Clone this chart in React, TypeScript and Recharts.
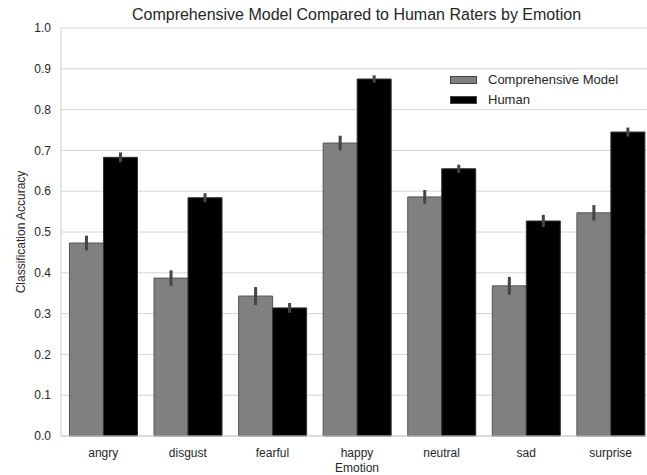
import React from 'react';
import { BarChart, Bar, XAxis, YAxis, CartesianGrid, ErrorBar } from 'recharts';

const emotions = ['angry', 'disgust', 'fearful', 'happy', 'neutral', 'sad', 'surprise'];
const modelAccuracy = [0.473, 0.387, 0.343, 0.718, 0.586, 0.368, 0.547];
const modelError = [0.018, 0.019, 0.022, 0.018, 0.017, 0.022, 0.019];
const humanAccuracy = [0.683, 0.584, 0.314, 0.875, 0.655, 0.527, 0.745];
const humanError = [0.012, 0.011, 0.012, 0.009, 0.010, 0.015, 0.011];
const yTicks = [0, 0.1, 0.2, 0.3, 0.4, 0.5, 0.6, 0.7, 0.8, 0.9, 1.0];
const seriesNames = ['Comprehensive Model', 'Human'];
const seriesColors = ['#808080', '#000000'];

const data = emotions.map((e, i) => ({
    emotion: e,
    model: modelAccuracy[i],
    modelErr: modelError[i],
    human: humanAccuracy[i],
    humanErr: humanError[i],
}));

const FONT = '"Liberation Sans", Arial, sans-serif';

const LegendBox = () => (
    <div style={{ position: 'absolute', left: 450, top: 70, fontFamily: FONT, fontSize: 13, color: '#262626', lineHeight: '20px' }}>
        {seriesNames.map((label, i) => (
            <div key={label} style={{ display: 'flex', alignItems: 'center', height: 20 }}>
                <span style={{ display: 'inline-block', width: 27, height: 8, background: seriesColors[i], border: '1px solid #444', boxSizing: 'border-box', marginRight: 11 }} />
                {label}
            </div>
        ))}
    </div>
);

// the original figure is cropped on the right, so the plot runs a little past the frame
const App: React.FC = () => {
    return (
        <div style={{ position: 'absolute', left: 0, top: 0, width: 647, height: 475, background: '#fff', overflow: 'hidden' }}>
            <div style={{ position: 'absolute', left: 61, width: 591, top: 6, textAlign: 'center', fontFamily: FONT, fontSize: 16, color: '#262626' }}>
                Comprehensive Model Compared to Human Raters by Emotion
            </div>
            <BarChart
                width={653}
                height={475}
                data={data}
                margin={{ top: 28, right: 0, left: 0, bottom: 0 }}
                barCategoryGap="10%"
                barGap={0}
            >
                <CartesianGrid vertical={false} stroke="#d4d4d4" strokeWidth={1} />
                <XAxis
                    dataKey="emotion"
                    height={39}
                    axisLine={{ stroke: '#cccccc' }}
                    tickLine={false}
                    tick={{ fontSize: 12, fill: '#262626', fontFamily: FONT }}
                    tickMargin={6}
                    label={{ value: 'Emotion', position: 'insideBottom', offset: 3, fontSize: 12, fill: '#262626', fontFamily: FONT }}
                />
                <YAxis
                    width={61}
                    domain={[0, 1]}
                    ticks={yTicks}
                    tickFormatter={(v: number) => v.toFixed(1)}
                    axisLine={{ stroke: '#cccccc' }}
                    tickLine={false}
                    tick={{ fontSize: 12, fill: '#262626', fontFamily: FONT }}
                    tickMargin={4}
                    label={{ value: 'Classification Accuracy', angle: -90, position: 'insideLeft', offset: 21, style: { textAnchor: 'middle' }, fontSize: 12, fill: '#262626', fontFamily: FONT }}
                />
                <Bar dataKey="model" name={seriesNames[0]} fill={seriesColors[0]} stroke="#555" strokeWidth={1} isAnimationActive={false}>
                    <ErrorBar dataKey="modelErr" width={0} stroke="#444" strokeWidth={3} direction="y" />
                </Bar>
                <Bar dataKey="human" name={seriesNames[1]} fill={seriesColors[1]} stroke="#333" strokeWidth={1} isAnimationActive={false}>
                    <ErrorBar dataKey="humanErr" width={0} stroke="#444" strokeWidth={3} direction="y" />
                </Bar>
            </BarChart>
            <LegendBox />
        </div>
    );
};

export default App;
